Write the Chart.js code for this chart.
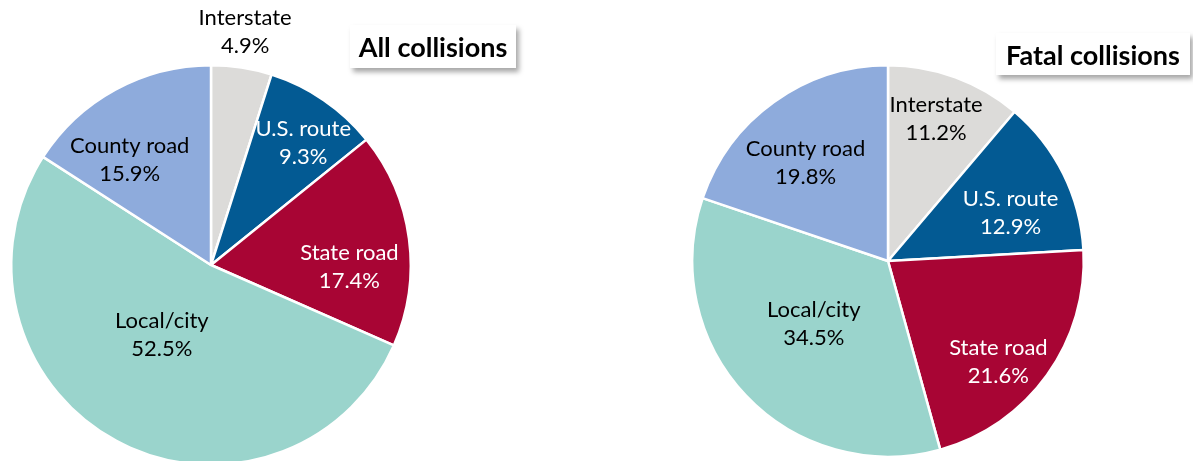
<!DOCTYPE html>
<html>
<head>
<meta charset="utf-8">
<script src="https://cdn.jsdelivr.net/npm/chart.js@4.4.1/dist/chart.umd.min.js"></script>
<style>
  html, body { margin: 0; padding: 0; background: #ffffff; overflow: hidden; width: 1193px; height: 461px; position: relative; }
  canvas { position: absolute; top: 0; }
  .title { position: absolute; background: #fff; font-family: Lato, "Open Sans", sans-serif; font-weight: bold; color: #000;
           box-shadow: 3px 4px 5px rgba(0,0,0,0.35); display: flex; align-items: center; justify-content: center; z-index: 5; }
</style>
</head>
<body>
<canvas id="allChart" width="430" height="480" style="left:0px"></canvas>
<canvas id="fatalChart" width="633" height="461" style="left:560px"></canvas>
<div class="title" style="left:350px; top:25px; width:166px; height:43px; font-size:27px;">All collisions</div>
<div class="title" style="left:996px; top:33px; width:194px; height:42px; font-size:27px;">Fatal collisions</div>
<script>
// ---- data ----
const categories = ['Interstate', 'U.S. route', 'State road', 'Local/city', 'County road'];
const allCollisions = [4.9, 9.3, 17.4, 52.5, 15.9];
const fatalCollisions = [11.2, 12.9, 21.6, 34.5, 19.8];

// ---- styles ----
const sliceColors = ['#dcdbd9', '#035a93', '#a80534', '#9ad4cc', '#8eabdc'];
const labelColors = ['#000000', '#ffffff', '#ffffff', '#000000', '#000000'];
// label centre offsets, in units of the pie radius, relative to the pie centre
const allLabelOffsets = [[0.171, -1.166], [0.462, -0.613], [0.693, 0.010], [-0.246, 0.352], [-0.407, -0.528]];
const fatalLabelOffsets = [[0.246, -0.728], [0.626, -0.246], [0.564, 0.513], [-0.379, 0.323], [-0.421, -0.503]];

const labelPlugin = {
  id: 'sliceLabels',
  afterDatasetsDraw(chart, args, opts) {
    const ctx = chart.ctx;
    const meta = chart.getDatasetMeta(0);
    const values = chart.data.datasets[0].data;
    ctx.save();
    ctx.font = '22px Lato, "Open Sans", sans-serif';
    ctx.textAlign = 'center';
    ctx.textBaseline = 'middle';
    meta.data.forEach((arc, i) => {
      const r = arc.outerRadius;
      const off = opts.offsets[i];
      const x = arc.x + off[0] * r;
      const y = arc.y + off[1] * r;
      ctx.fillStyle = labelColors[i];
      ctx.fillText(chart.data.labels[i], x, y - 14);
      ctx.fillText(values[i].toFixed(1) + '%', x, y + 14);
    });
    ctx.restore();
  }
};

function makePie(id, values, offsets, padding) {
  return new Chart(document.getElementById(id), {
    type: 'pie',
    data: {
      labels: categories,
      datasets: [{
        data: values,
        backgroundColor: sliceColors,
        borderColor: '#ffffff',
        borderWidth: 2.5
      }]
    },
    options: {
      responsive: false,
      animation: false,
      layout: { padding: padding },
      plugins: {
        legend: { display: false },
        tooltip: { enabled: false },
        sliceLabels: { offsets: offsets }
      }
    },
    plugins: [labelPlugin]
  });
}

makePie('allChart', allCollisions, allLabelOffsets, { left: 10, right: 18, top: 64, bottom: 14 });
makePie('fatalChart', fatalCollisions, fatalLabelOffsets, { left: 131, right: 108, top: 64, bottom: 3 });
</script>
</body>
</html>
